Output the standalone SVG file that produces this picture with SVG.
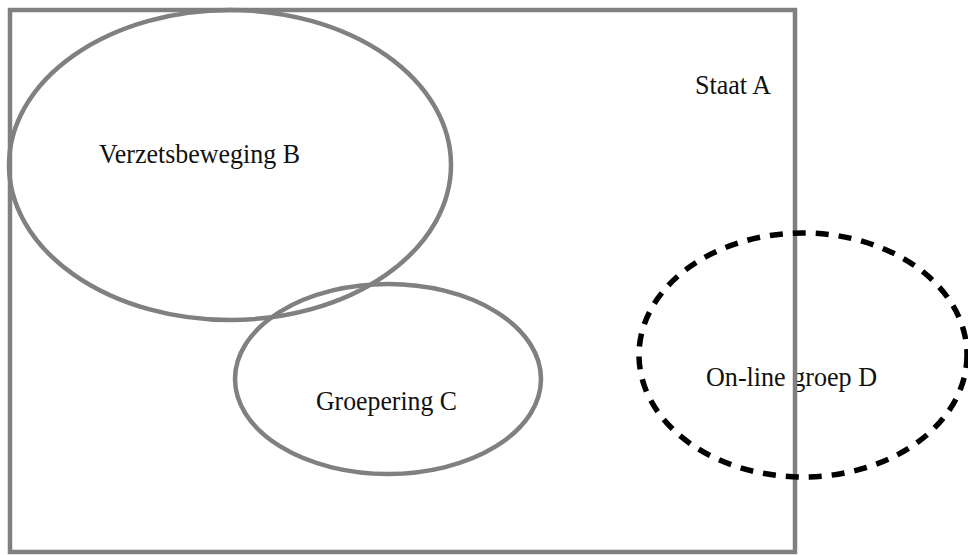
<svg xmlns="http://www.w3.org/2000/svg" width="968" height="555" viewBox="0 0 968 555">
<style>
.g{fill:none;stroke:#808080;stroke-width:4.5}
.d{fill:none;stroke:#000;stroke-width:5.5;stroke-dasharray:13 10}
text{font-family:"Liberation Serif","Times New Roman",serif;font-size:27px;fill:#111}
</style>
<rect width="968" height="555" fill="#fff"/>
<g id="groepD-label"><text x="706" y="386" textLength="171" lengthAdjust="spacingAndGlyphs">On-line groep D</text></g>
<g id="staatA">
<rect class="g" x="10" y="10" width="785" height="542"/>
<text x="695" y="94" textLength="76" lengthAdjust="spacingAndGlyphs">Staat A</text>
</g>
<g id="verzetsbewegingB">
<ellipse class="g" cx="230" cy="165" rx="221" ry="155"/>
<text x="99" y="163" textLength="201" lengthAdjust="spacingAndGlyphs">Verzetsbeweging B</text>
</g>
<g id="groeperingC">
<ellipse class="g" cx="388" cy="379" rx="153" ry="95"/>
<text x="316" y="410" textLength="141" lengthAdjust="spacingAndGlyphs">Groepering C</text>
</g>
<g id="groepD">
<ellipse class="d" cx="803" cy="355" rx="164" ry="122"/>
</g>
<g id="connectors"/>
</svg>
